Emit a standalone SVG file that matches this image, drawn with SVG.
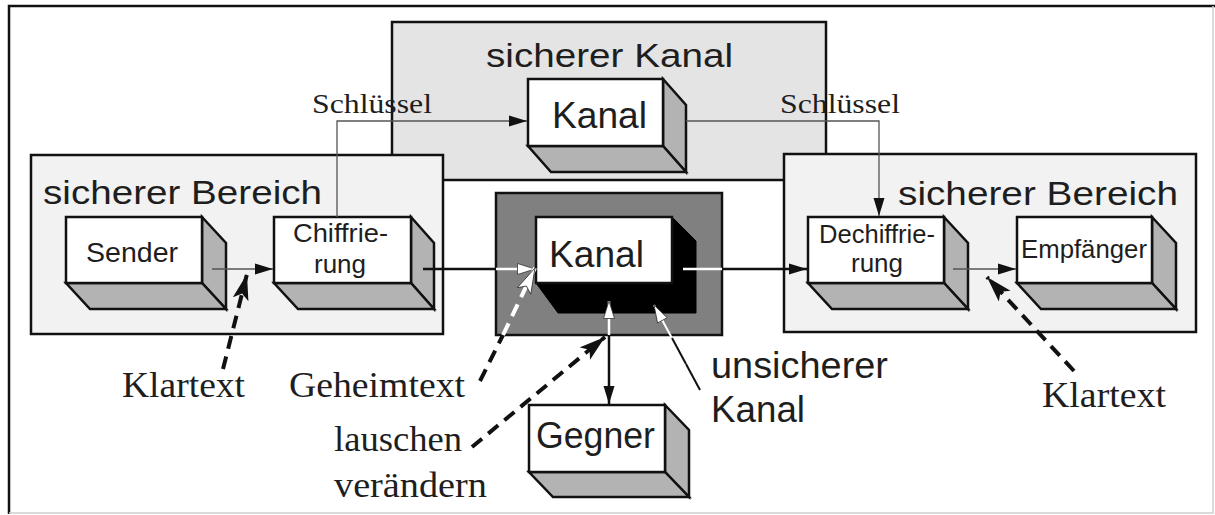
<svg xmlns="http://www.w3.org/2000/svg" width="1215" height="515" viewBox="0 0 1215 515">
<style>
.frame{fill:#ffffff;stroke:none}
.cont{stroke:#111;stroke-width:2.5}
.front{fill:#ffffff;stroke:#111;stroke-width:2.5;stroke-linejoin:miter}
.side{fill:#b3b3b3;stroke:#111;stroke-width:2.5;stroke-linejoin:miter}
.sans{font-family:"Liberation Sans",Arial,sans-serif;fill:#1e1e1e}
.serif{font-family:"Liberation Serif","Times New Roman",serif;fill:#1e1e1e}
.thin{stroke:#555;stroke-width:1.3;fill:none}
.thick{stroke:#111;stroke-width:2.5;fill:none}
.thickw{stroke:#fff;stroke-width:2.5;fill:none}
.dash{stroke:#111;stroke-width:4;fill:none;stroke-dasharray:13 8}
.dashw{stroke:#fff;stroke-width:4;fill:none;stroke-dasharray:13 8}
</style>
<defs>
<marker id="ah" markerUnits="userSpaceOnUse" markerWidth="20" markerHeight="12" refX="18" refY="6" orient="auto">
<path d="M0,0.5 L18,6 L0,11.5 z" fill="#111"/>
</marker>
<marker id="ahw" markerUnits="userSpaceOnUse" markerWidth="20" markerHeight="14" refX="18" refY="7" orient="auto">
<path d="M0.5,1.5 L18,7 L0.5,12.5 z" fill="#fff" stroke="#333" stroke-width="0.8"/>
</marker>
<marker id="dart" markerUnits="userSpaceOnUse" markerWidth="28" markerHeight="18" refX="26" refY="8" orient="auto">
<path d="M0,0 L26,8 L0,16 L6,8 z" fill="#111"/>
</marker>
<marker id="dartw" markerUnits="userSpaceOnUse" markerWidth="28" markerHeight="18" refX="26" refY="8" orient="auto">
<path d="M0.5,0.5 L26,8 L0.5,15.5 L6,8 z" fill="#fff" stroke="#333" stroke-width="0.8"/>
</marker>
</defs>

<g id="frame">
<rect x="0" y="0" width="1215" height="515" fill="#fff"/>
<path d="M9,514 L9,6 L1215,6" fill="none" stroke="#111" stroke-width="2.5"/>
<path d="M9,513 L1213,513 L1213,6" fill="none" stroke="#cfcfcf" stroke-width="1.5"/>
</g>

<g id="sicherer-kanal">
<rect x="392" y="22" width="434" height="158" fill="#e4e4e4" class="cont"/>
<text class="sans" x="486" y="67" font-size="33" textLength="247" lengthAdjust="spacingAndGlyphs">sicherer Kanal</text>
</g>

<g id="bereich-links">
<rect x="31" y="155" width="412" height="179" fill="#f2f2f2" class="cont"/>
<text class="sans" x="43" y="204" font-size="33" textLength="279" lengthAdjust="spacingAndGlyphs">sicherer Bereich</text>
</g>

<g id="bereich-rechts">
<rect x="784" y="154" width="412" height="178" fill="#f2f2f2" class="cont"/>
<text class="sans" x="898" y="205" font-size="33" textLength="280" lengthAdjust="spacingAndGlyphs">sicherer Bereich</text>
</g>

<g id="unsicherer-bereich">
<rect x="496" y="193" width="226" height="142" fill="#808080" class="cont"/>
</g>

<g id="kanal-sicher">
<polygon class="side" points="663,79 686,105 686,172 663,146"/>
<polygon class="side" points="528,146 663,146 686,172 551,172"/>
<rect class="front" x="528" y="79" width="135" height="67"/>
<text class="sans" x="552" y="128" font-size="36" textLength="95" lengthAdjust="spacingAndGlyphs">Kanal</text>
</g>

<g id="sender">
<polygon class="side" points="202,217 226,243 226,309 202,283"/>
<polygon class="side" points="66,283 202,283 226,309 90,309"/>
<rect class="front" x="66" y="217" width="136" height="66"/>
<text class="sans" x="86" y="262" font-size="28" textLength="92" lengthAdjust="spacingAndGlyphs">Sender</text>
</g>

<g id="chiffrierung">
<polygon class="side" points="411,217 434,243 434,309 411,283"/>
<polygon class="side" points="274,283 411,283 434,309 298,309"/>
<rect class="front" x="274" y="217" width="137" height="66"/>
<text class="sans" x="293" y="242" font-size="26" textLength="95" lengthAdjust="spacingAndGlyphs">Chiffrie-</text>
<text class="sans" x="340" y="273" font-size="26" text-anchor="middle">rung</text>
</g>

<g id="kanal-unsicher">
<polygon points="672,217 696,241 696,313 558,313 536,283 672,283" fill="#000" stroke="#000" stroke-width="1"/>
<rect class="front" x="536" y="217" width="136" height="66"/>
<text class="sans" x="549" y="267" font-size="36" textLength="95" lengthAdjust="spacingAndGlyphs">Kanal</text>
</g>

<g id="dechiffrierung">
<polygon class="side" points="944,217 968,243 968,309 944,283"/>
<polygon class="side" points="808,283 944,283 968,309 832,309"/>
<rect class="front" x="808" y="217" width="136" height="66"/>
<text class="sans" x="819" y="243" font-size="26" textLength="116" lengthAdjust="spacingAndGlyphs">Dechiffrie-</text>
<text class="sans" x="877" y="272" font-size="26" text-anchor="middle">rung</text>
</g>

<g id="empfaenger">
<polygon class="side" points="1152,217 1176,243 1176,309 1152,283"/>
<polygon class="side" points="1017,283 1152,283 1176,309 1041,309"/>
<rect class="front" x="1017" y="217" width="135" height="66"/>
<text class="sans" x="1021" y="258" font-size="26" textLength="126" lengthAdjust="spacingAndGlyphs">Empfänger</text>
</g>

<g id="gegner">
<polygon class="side" points="665,405 689,430 689,497 665,472"/>
<polygon class="side" points="529,472 665,472 689,497 553,497"/>
<rect class="front" x="529" y="405" width="136" height="67"/>
<text class="sans" x="536" y="448" font-size="36" textLength="119" lengthAdjust="spacingAndGlyphs">Gegner</text>
</g>

<g id="connectors">
<!-- key lines -->
<path class="thin" d="M337,217 L337,121 L527,121" marker-end="url(#ah)"/>
<path class="thin" d="M686,121 L879,121 L879,216" marker-end="url(#ah)"/>
<!-- Sender -> Chiffrierung -->
<path class="thin" d="M212,269 L273,269" marker-end="url(#ah)"/>
<!-- Chiffrierung -> Kanal -->
<path class="thick" d="M423,269 L496,269"/>
<path class="thickw" d="M496,269 L535,269" marker-end="url(#ahw)"/>
<!-- Kanal -> Dechiffrierung -->
<path class="thickw" d="M683,269 L722,269"/>
<path class="thick" d="M722,269 L807,269" marker-end="url(#ah)"/>
<!-- Dechiffrierung -> Empfaenger -->
<path class="thin" d="M953,269 L1016,269" marker-end="url(#ah)"/>
<!-- Gegner double arrow -->
<path class="thickw" d="M609,335 L609,301" marker-end="url(#ahw)"/>
<path class="thick" d="M609,335 L609,404" marker-end="url(#ah)"/>
<!-- unsicherer Kanal pointer -->
<path d="M700,390 L686,364" stroke="#111" stroke-width="2" fill="none"/>
<path d="M686,364 L654,305" stroke="#fff" stroke-width="2" fill="none" marker-end="url(#ahw)"/>
<path d="M686,364 L672,338" stroke="#111" stroke-width="2" fill="none"/>
<!-- Klartext left -->
<path class="dash" d="M223,369 L247,274" marker-end="url(#dart)"/>
<!-- Klartext right -->
<path class="dash" d="M1074,371 L987,277" marker-end="url(#dart)"/>
<!-- Geheimtext -->
<path class="dash" d="M480,381 L503,335"/>
<path class="dashw" d="M503,335 L535,268" marker-end="url(#dartw)"/>
<!-- lauschen / veraendern -->
<path class="dash" d="M472,447 L605,337" marker-end="url(#dart)"/>
</g>

<g id="labels">
<text class="serif" x="312" y="113" font-size="27" textLength="120" lengthAdjust="spacingAndGlyphs">Schlüssel</text>
<text class="serif" x="780" y="113" font-size="27" textLength="120" lengthAdjust="spacingAndGlyphs">Schlüssel</text>
<text class="serif" x="122" y="397" font-size="36" textLength="123" lengthAdjust="spacingAndGlyphs">Klartext</text>
<text class="serif" x="289" y="397" font-size="36" textLength="176" lengthAdjust="spacingAndGlyphs">Geheimtext</text>
<text class="serif" x="334" y="451" font-size="36" textLength="128" lengthAdjust="spacingAndGlyphs">lauschen</text>
<text class="serif" x="334" y="497" font-size="36" textLength="153" lengthAdjust="spacingAndGlyphs">verändern</text>
<text class="serif" x="1042" y="407" font-size="36" textLength="124" lengthAdjust="spacingAndGlyphs">Klartext</text>
<text class="sans" x="711" y="378" font-size="37" textLength="177" lengthAdjust="spacingAndGlyphs">unsicherer</text>
<text class="sans" x="711" y="422" font-size="37" textLength="94" lengthAdjust="spacingAndGlyphs">Kanal</text>
</g>
</svg>
